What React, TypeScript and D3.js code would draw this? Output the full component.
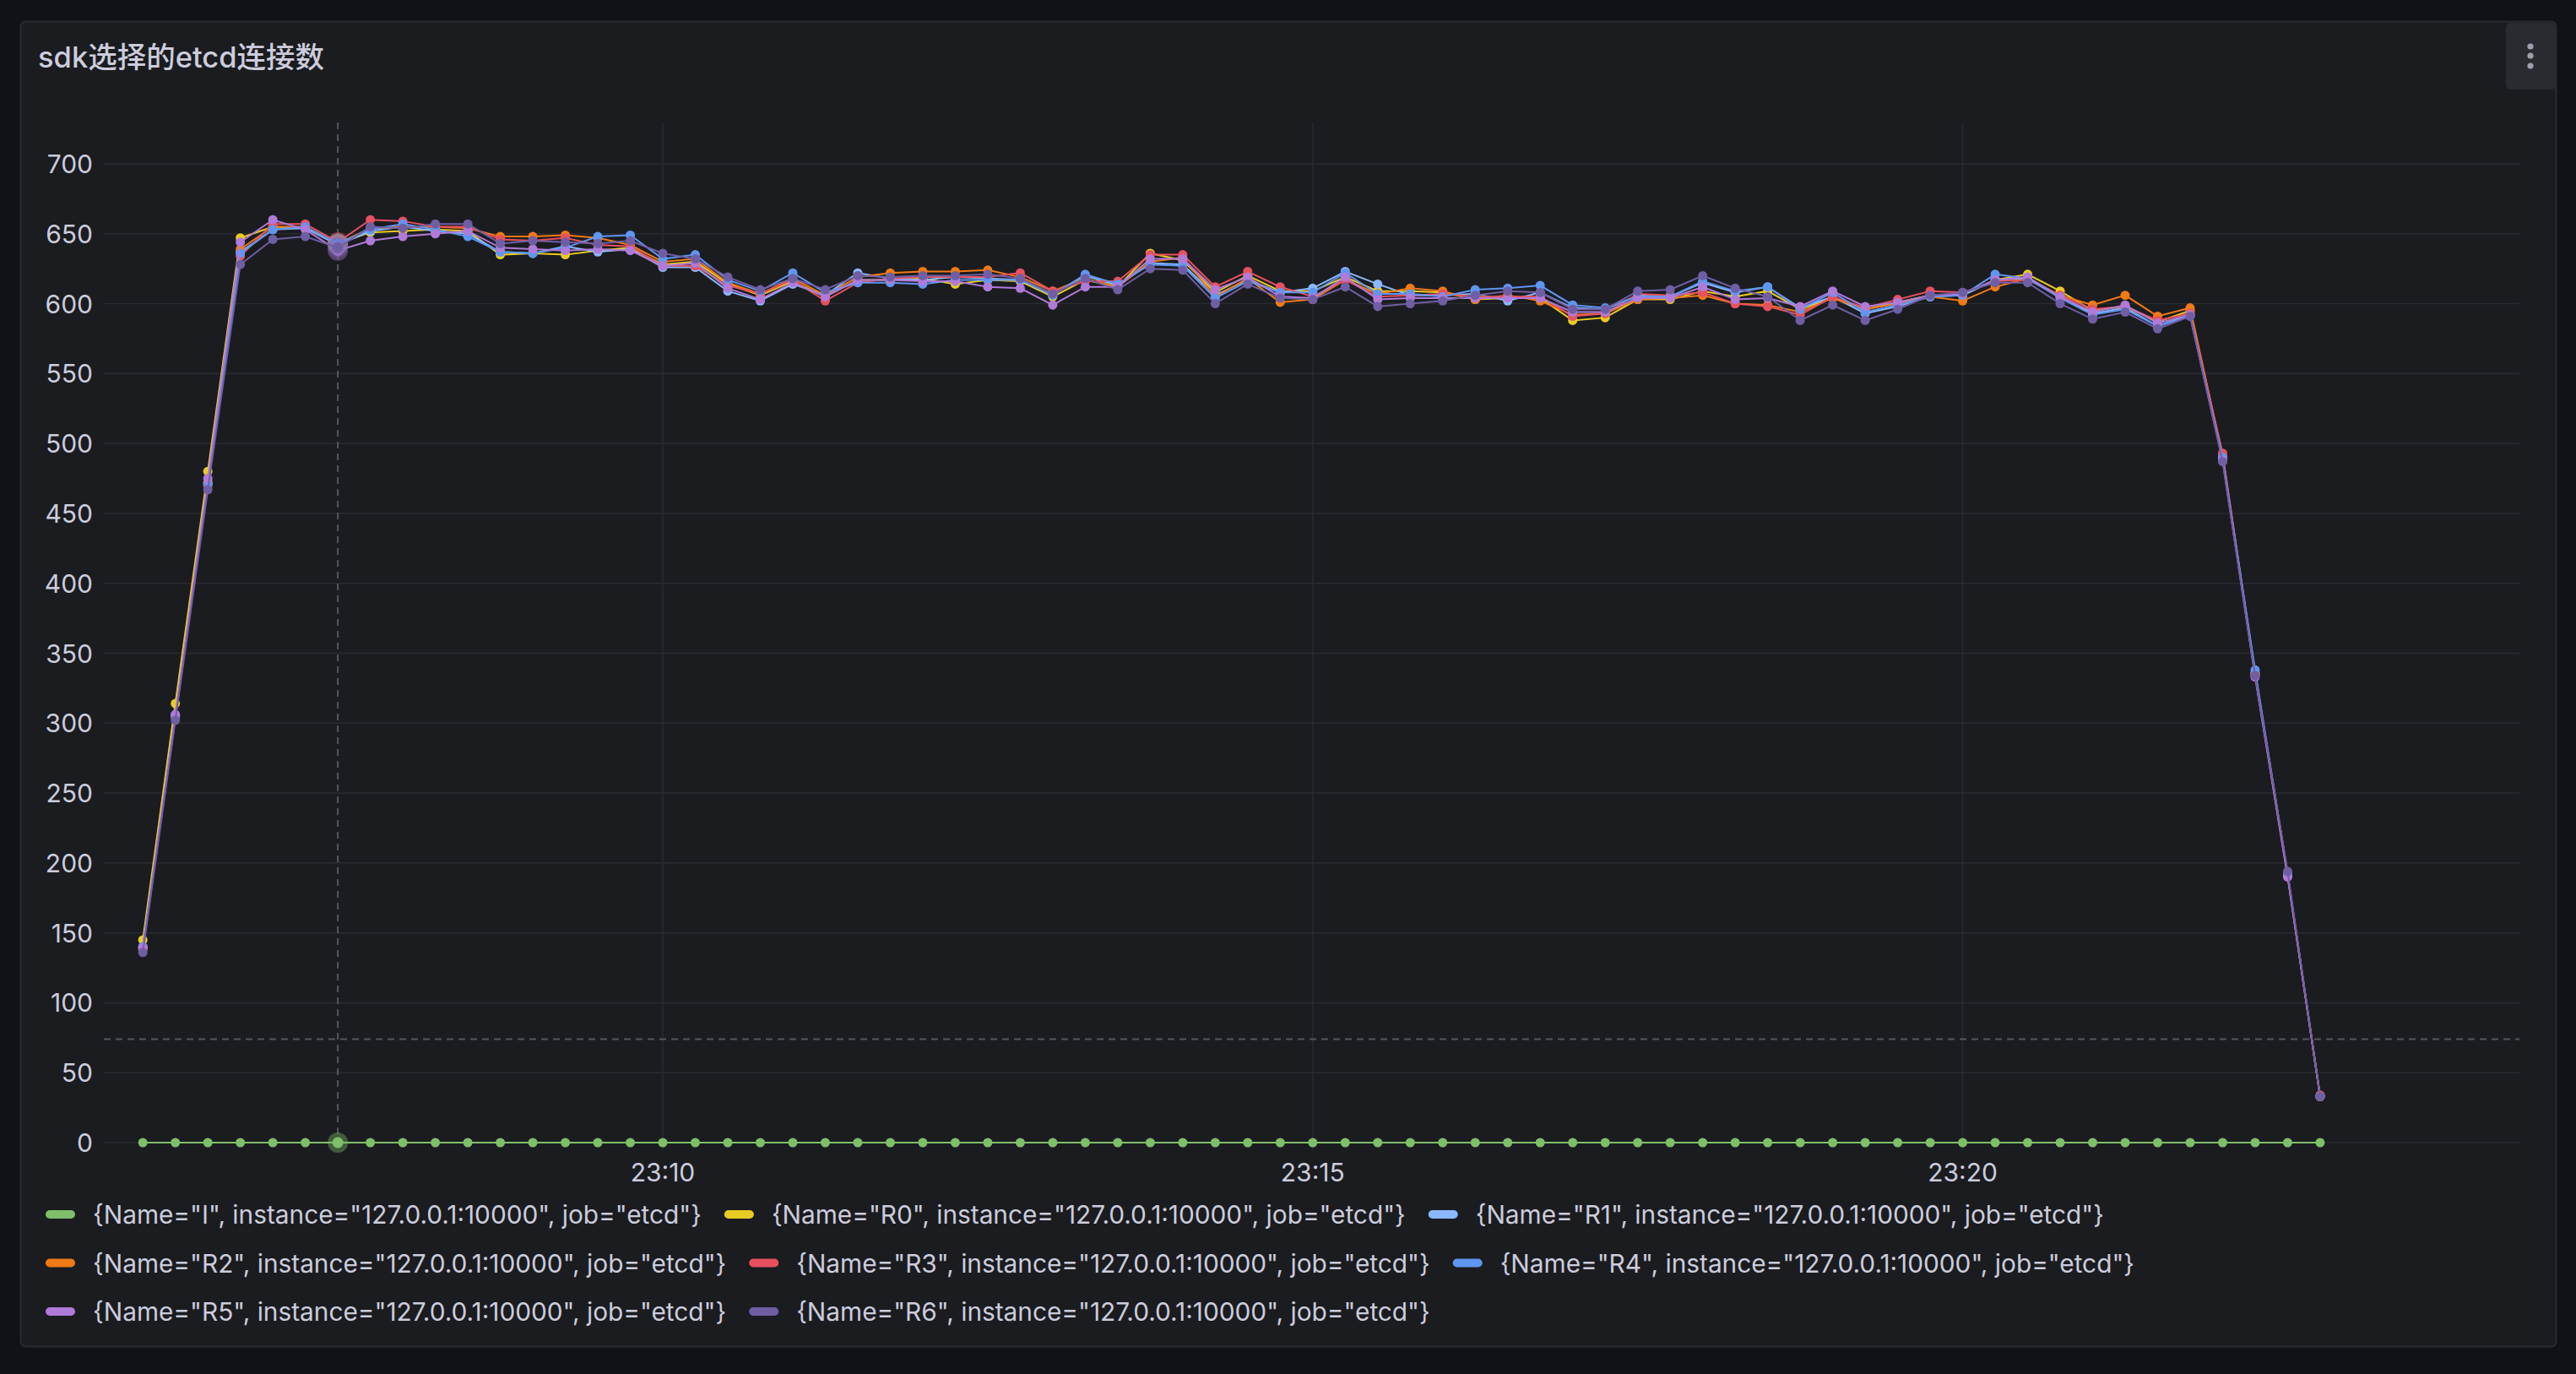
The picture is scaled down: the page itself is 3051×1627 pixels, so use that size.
import React, { useRef, useEffect } from 'react';
import * as d3 from 'd3';

// sample timestamps (15s scrape interval)
const times = [
  '23:06:00', '23:06:15', '23:06:30', '23:06:45', '23:07:00', '23:07:15', '23:07:30', '23:07:45',
  '23:08:00', '23:08:15', '23:08:30', '23:08:45', '23:09:00', '23:09:15', '23:09:30', '23:09:45',
  '23:10:00', '23:10:15', '23:10:30', '23:10:45', '23:11:00', '23:11:15', '23:11:30', '23:11:45',
  '23:12:00', '23:12:15', '23:12:30', '23:12:45', '23:13:00', '23:13:15', '23:13:30', '23:13:45',
  '23:14:00', '23:14:15', '23:14:30', '23:14:45', '23:15:00', '23:15:15', '23:15:30', '23:15:45',
  '23:16:00', '23:16:15', '23:16:30', '23:16:45', '23:17:00', '23:17:15', '23:17:30', '23:17:45',
  '23:18:00', '23:18:15', '23:18:30', '23:18:45', '23:19:00', '23:19:15', '23:19:30', '23:19:45',
  '23:20:00', '23:20:15', '23:20:30', '23:20:45', '23:21:00', '23:21:15', '23:21:30', '23:21:45',
  '23:22:00', '23:22:15', '23:22:30', '23:22:45',
];

const valuesI = [
  0, 0, 0, 0, 0, 0, 0, 0, 0, 0, 0, 0, 0, 0, 0, 0, 0, 0, 0, 0, 0, 0, 0, 0, 0, 0, 0, 0, 0, 0, 0, 0, 0, 0,
  0, 0, 0, 0, 0, 0, 0, 0, 0, 0, 0, 0, 0, 0, 0, 0, 0, 0, 0, 0, 0, 0, 0, 0, 0, 0, 0, 0, 0, 0, 0, 0, 0, 0,
];
const valuesR0 = [
  145, 314, 480, 647, 655, 654, 643, 651, 652, 653, 652, 635, 636, 635, 638, 640, 628, 630, 614, 606,
  616, 605, 617, 617, 618, 614, 617, 616, 605, 617, 612, 636, 631, 608, 620, 609, 609, 619, 609, 609,
  608, 603, 604, 604, 588, 590, 603, 603, 609, 605, 609, 596, 604, 596, 601, 606, 606, 617, 621, 609,
  595, 598, 587, 595, 490, 335, 191, 33,
];
const valuesR1 = [
  140, 306, 472, 637, 653, 654, 642, 652, 655, 652, 650, 637, 636, 641, 637, 639, 626, 626, 609, 602,
  614, 606, 622, 618, 617, 619, 618, 617, 607, 620, 613, 629, 628, 606, 617, 608, 611, 623, 614, 606,
  606, 607, 602, 608, 597, 596, 606, 605, 615, 608, 612, 597, 605, 593, 598, 605, 606, 617, 618, 605,
  593, 597, 584, 592, 489, 336, 192, 33,
];
const valuesR2 = [
  140, 305, 472, 639, 655, 655, 643, 654, 655, 655, 654, 648, 648, 649, 647, 642, 630, 632, 615, 607,
  618, 606, 619, 622, 623, 623, 624, 619, 609, 618, 612, 630, 633, 605, 618, 601, 603, 617, 607, 611,
  609, 603, 606, 602, 592, 593, 603, 604, 606, 600, 599, 594, 604, 596, 600, 605, 602, 612, 618, 606,
  599, 606, 591, 597, 491, 335, 192, 33,
];
const valuesR3 = [
  138, 304, 470, 634, 657, 657, 644, 660, 659, 655, 655, 646, 645, 647, 642, 641, 627, 627, 613, 607,
  617, 602, 615, 618, 619, 619, 619, 622, 609, 616, 616, 635, 635, 612, 623, 612, 605, 617, 605, 606,
  607, 605, 605, 605, 591, 593, 607, 606, 608, 600, 598, 592, 605, 597, 603, 609, 608, 616, 617, 606,
  596, 598, 588, 593, 493, 334, 191, 34,
];
const valuesR4 = [
  140, 305, 471, 636, 653, 655, 643, 653, 657, 653, 648, 637, 636, 640, 648, 649, 632, 635, 617, 609,
  622, 608, 615, 615, 614, 617, 617, 617, 606, 621, 614, 628, 627, 604, 616, 608, 608, 622, 607, 607,
  605, 610, 611, 613, 599, 597, 605, 605, 616, 609, 612, 596, 608, 594, 599, 605, 606, 621, 618, 604,
  592, 596, 584, 591, 490, 338, 192, 33,
];
const valuesR5 = [
  139, 306, 475, 644, 660, 653, 638, 645, 648, 650, 652, 640, 639, 638, 639, 638, 627, 629, 611, 603,
  615, 605, 617, 617, 616, 616, 612, 611, 599, 612, 612, 632, 632, 610, 619, 605, 604, 619, 603, 604,
  604, 604, 604, 604, 594, 594, 604, 604, 612, 603, 604, 598, 609, 598, 601, 606, 607, 617, 619, 605,
  594, 599, 586, 592, 488, 333, 190, 33,
];
const valuesR6 = [
  136, 302, 467, 628, 646, 648, 640, 655, 654, 657, 657, 643, 645, 644, 643, 645, 636, 632, 619, 610,
  618, 610, 620, 619, 620, 620, 621, 618, 607, 618, 610, 625, 624, 600, 614, 604, 603, 612, 598, 600,
  602, 606, 609, 608, 596, 596, 609, 610, 620, 611, 605, 588, 599, 588, 596, 606, 608, 615, 615, 600,
  589, 594, 582, 591, 487, 334, 194, 33,
];

const seriesNames = ['I', 'R0', 'R1', 'R2', 'R3', 'R4', 'R5', 'R6'];
const seriesColors = ['#7fbf6a', '#eacb22', '#8ab8ff', '#f07a14', '#e8505e', '#5f96f2', '#b07ad9', '#6f5ea4'];
const seriesValues = [valuesI, valuesR0, valuesR1, valuesR2, valuesR3, valuesR4, valuesR5, valuesR6];

const yTicks = [0, 50, 100, 150, 200, 250, 300, 350, 400, 450, 500, 550, 600, 650, 700];
const xTickLabels = ['23:10', '23:15', '23:20'];
const xDomain = ['23:05:42', '23:24:17'];
const hoverTime = '23:07:30';
const hoverValue = 74;

const title = 'sdk选择的etcd连接数';

const colors = {
  page: '#111217',
  panel: '#1b1c20',
  border: '#2a2b30',
  grid: '#2a2b30',
  text: '#ccccdc',
  crosshair: '#55565e',
};

const W = 3051;
const H = 1627;
const FONT = "Inter, 'Noto Sans CJK SC', sans-serif";

export default function App() {
  const svgRef = useRef<SVGSVGElement>(null);

  useEffect(() => {
    if (!svgRef.current) return;
    const svg = d3.select(svgRef.current);
    svg.selectAll('*').remove();

    const parse = d3.timeParse('%H:%M:%S');
    const parseTick = d3.timeParse('%H:%M');
    const dates = times.map(t => parse(t)!);

    const plot = { left: 123, right: 2984, top: 145, bottom: 1362 };

    const x = d3.scaleTime()
      .domain([parse(xDomain[0])!, parse(xDomain[1])!])
      .range([plot.left, plot.right]);
    const y = d3.scaleLinear().domain([0, 700]).range([1353, 194]);

    svg.append('rect').attr('width', W).attr('height', H).attr('fill', colors.page);

    // panel
    svg.append('rect')
      .attr('x', 24.5).attr('y', 25.5)
      .attr('width', 3003).attr('height', 1569)
      .attr('rx', 6)
      .attr('fill', colors.panel)
      .attr('stroke', colors.border)
      .attr('stroke-width', 2);

    svg.append('text')
      .attr('x', 45).attr('y', 80)
      .attr('font-family', FONT)
      .attr('font-size', 34.5)
      .attr('font-weight', 500)
      .attr('fill', colors.text)
      .text(title);

    // menu button
    svg.append('rect')
      .attr('x', 2968).attr('y', 27).attr('width', 59).attr('height', 79)
      .attr('rx', 6).attr('fill', '#2a2b30');
    [55, 66, 78].forEach(cy => {
      svg.append('circle').attr('cx', 2997).attr('cy', cy).attr('r', 3.6).attr('fill', '#9fa0ad');
    });

    // grid
    const g = svg.append('g');
    yTicks.forEach(v => {
      g.append('line')
        .attr('x1', plot.left).attr('x2', plot.right)
        .attr('y1', y(v)).attr('y2', y(v))
        .attr('stroke', colors.grid).attr('stroke-width', 1.5);
      g.append('text')
        .attr('x', 110).attr('y', y(v))
        .attr('text-anchor', 'end')
        .attr('dominant-baseline', 'central')
        .attr('font-family', FONT).attr('font-size', 30)
        .attr('fill', colors.text)
        .text(v);
    });
    xTickLabels.forEach(lbl => {
      const xv = x(parseTick(lbl)!);
      g.append('line')
        .attr('x1', xv).attr('x2', xv)
        .attr('y1', plot.top).attr('y2', plot.bottom)
        .attr('stroke', colors.grid).attr('stroke-width', 1.5);
      g.append('text')
        .attr('x', xv).attr('y', 1388)
        .attr('text-anchor', 'middle')
        .attr('dominant-baseline', 'central')
        .attr('font-family', FONT).attr('font-size', 30)
        .attr('fill', colors.text)
        .text(lbl);
    });

    // crosshair
    const hx = x(parse(hoverTime)!);
    g.append('line')
      .attr('x1', hx).attr('x2', hx).attr('y1', plot.top).attr('y2', plot.bottom)
      .attr('stroke', colors.crosshair).attr('stroke-width', 2).attr('stroke-dasharray', '8,6');
    g.append('line')
      .attr('x1', plot.left).attr('x2', plot.right).attr('y1', y(hoverValue)).attr('y2', y(hoverValue))
      .attr('stroke', colors.crosshair).attr('stroke-width', 2).attr('stroke-dasharray', '8,6');

    const line = d3.line<number>()
      .x((_, i) => x(dates[i]))
      .y(d => y(d));

    const hoverIdx = times.indexOf(hoverTime);

    seriesValues.forEach((vals, si) => {
      const c = seriesColors[si];
      const sg = svg.append('g');
      sg.append('path')
        .datum(vals)
        .attr('d', line)
        .attr('fill', 'none')
        .attr('stroke', c)
        .attr('stroke-width', 2);
      sg.selectAll('circle.pt')
        .data(vals)
        .enter()
        .append('circle')
        .attr('class', 'pt')
        .attr('cx', (_, i) => x(dates[i]))
        .attr('cy', d => y(d))
        .attr('r', 5.5)
        .attr('fill', c);
      // hover highlight
      const hv = vals[hoverIdx];
      sg.append('circle')
        .attr('cx', hx).attr('cy', y(hv)).attr('r', 12)
        .attr('fill', c).attr('fill-opacity', 0.4);
      sg.append('circle')
        .attr('cx', hx).attr('cy', y(hv)).attr('r', 6.5)
        .attr('fill', c);
    });

    // legend
    const lg = svg.append('g');
    let lx = 54;
    let row = 0;
    const maxRight = 3010;
    seriesNames.forEach((name, si) => {
      const label = `{Name="${name}", instance="127.0.0.1:10000", job="etcd"}`;
      const t = lg.append('text')
        .attr('font-family', FONT).attr('font-size', 29.8)
        .attr('fill', colors.text)
        .attr('dominant-baseline', 'central')
        .text(label);
      const tw = (t.node() as SVGTextElement).getComputedTextLength();
      const itemW = 56 + tw;
      if (lx + itemW > maxRight && lx > 54) {
        row += 1;
        lx = 54;
      }
      const cy = 1438 + row * 57.5;
      lg.append('rect')
        .attr('x', lx).attr('y', cy - 5).attr('width', 35).attr('height', 10)
        .attr('rx', 5).attr('fill', seriesColors[si]);
      t.attr('x', lx + 56).attr('y', cy);
      lx += itemW + 27;
    });
  }, []);

  return (
    <svg
      ref={svgRef}
      width={W}
      height={H}
      style={{ position: 'absolute', left: 0, top: 0, display: 'block' }}
    />
  );
}
